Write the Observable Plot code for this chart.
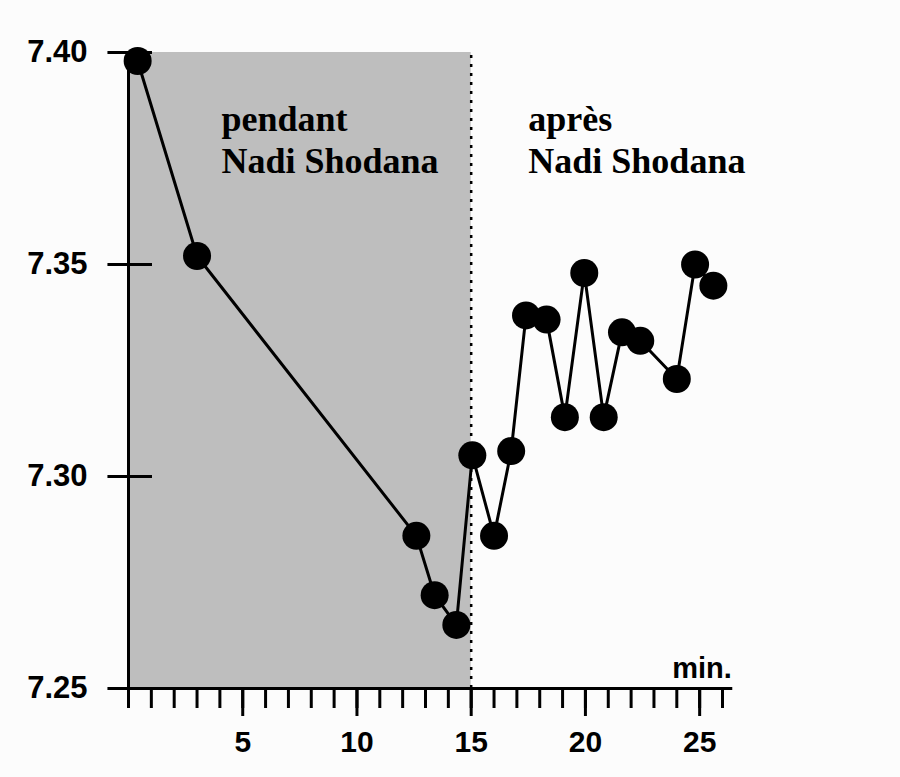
<!DOCTYPE html>
<html><head><meta charset="utf-8">
<script src="https://cdn.jsdelivr.net/npm/d3@7"></script>
<script src="https://cdn.jsdelivr.net/npm/@observablehq/plot@0.6"></script>
<style>body{margin:0;background:#fcfcfc}</style>
</head><body><div id="chart"></div><script>
// Data
const minutes = [0.4, 3.0, 12.6, 13.4, 14.35, 15.05, 16.0, 16.75, 17.4, 18.3, 19.1, 19.95, 20.8, 21.6, 22.4, 24.0, 24.8, 25.6];
const ph      = [7.398, 7.352, 7.286, 7.272, 7.265, 7.305, 7.286, 7.306, 7.338, 7.337, 7.314, 7.348, 7.314, 7.334, 7.332, 7.323, 7.350, 7.345];
const yTicks = [7.25, 7.30, 7.35, 7.40];
const xMinorTicks = d3.range(0, 27);
const xMajorTicks = [5, 10, 15, 20, 25];
const phaseEnd = 15;
const labels = [
  {x: 4.07, y: 7.3885, text: "pendant\nNadi Shodana"},
  {x: 17.5, y: 7.3885, text: "après\nNadi Shodana"}
];
const unitLabel = "min.";

const data = minutes.map((m, i) => ({m, v: ph[i]}));

const plot = Plot.plot({
  width: 900, height: 777,
  marginLeft: 128, marginRight: 178, marginTop: 52, marginBottom: 89,
  x: {domain: [0, 26]},
  y: {domain: [7.25, 7.40]},
  style: {background: "#fcfcfc", fontFamily: "Liberation Sans", fontSize: "30px", fontWeight: "bold", color: "#000", overflow: "visible"},
  marks: [
    Plot.rect([{a: 0, b: phaseEnd}], {x1: "a", x2: "b", y1: yTicks[0], y2: yTicks[yTicks.length - 1], fill: "#bebebe"}),
    Plot.ruleX([phaseEnd], {y1: yTicks[0], y2: yTicks[yTicks.length - 1], stroke: "#000", strokeWidth: 2.5, strokeDasharray: "3,6"}),
    Plot.ruleX([0], {y1: yTicks[0], y2: yTicks[yTicks.length - 1], stroke: "#000", strokeWidth: 3}),
    Plot.ruleY([yTicks[0]], {x1: -0.9, x2: 26.45, stroke: "#000", strokeWidth: 3}),
    Plot.ruleY(yTicks.slice(1), {x1: -0.9, x2: 1.05, stroke: "#000", strokeWidth: 3}),
    Plot.axisY({ticks: yTicks, tickSize: 0, tickPadding: 41, tickFormat: d3.format(".2f"), label: null, fontSize: 31}),
    Plot.axisX({ticks: xMinorTicks, tickSize: 20, tickFormat: () => "", strokeWidth: 3, label: null}),
    Plot.axisX({ticks: xMajorTicks, tickSize: 28, tickPadding: 14, strokeWidth: 3, label: null}),
    Plot.text([unitLabel], {x: 23.8, y: yTicks[0], dy: -11, text: d => d, textAnchor: "start", lineAnchor: "bottom", fontSize: 29}),
    Plot.text(labels, {x: "x", y: "y", text: "text", textAnchor: "start", lineAnchor: "top", fontFamily: "Liberation Serif", fontSize: 36, fontWeight: "bold", lineHeight: 1.17}),
    Plot.line(data, {x: "m", y: "v", stroke: "#000", strokeWidth: 3}),
    Plot.dot(data, {x: "m", y: "v", r: 14, fill: "#000"})
  ]
});
document.getElementById("chart").appendChild(plot);
</script></body></html>
